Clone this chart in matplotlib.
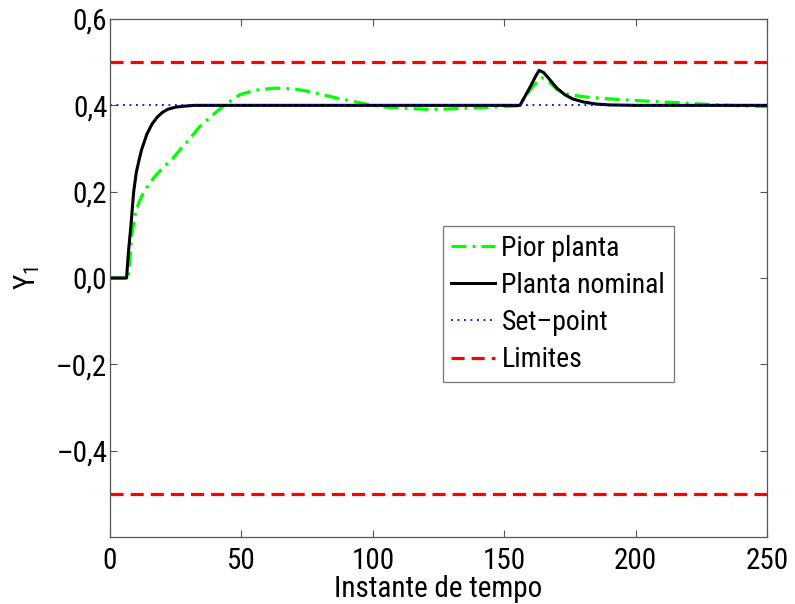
import numpy as np
import matplotlib
matplotlib.use('Agg')
import matplotlib.pyplot as plt

# tempo / respostas
t_nom = [0, 6.3, 7, 8, 9, 10, 11, 12, 14, 16, 18, 20, 22, 25, 28, 32, 40,
         156, 158, 160, 162, 163.3, 165, 167, 170, 173, 176, 180, 185, 190, 200, 250]
y_nom = [0, 0, 0.06, 0.125, 0.2, 0.245, 0.272, 0.297, 0.333, 0.357, 0.373, 0.384,
         0.391, 0.396, 0.398, 0.4, 0.4,
         0.4, 0.422, 0.444, 0.468, 0.481, 0.476, 0.462, 0.44, 0.425, 0.415, 0.408,
         0.403, 0.401, 0.4, 0.4]

t_pior = [0, 7, 8.2, 9.5, 10.8, 12, 14, 17, 20, 23.5, 27, 30, 34, 38, 43, 49.5, 55,
          63, 70, 76, 82, 87, 91, 95, 99, 105, 113, 120, 126, 134, 142, 150, 155.5,
          158, 161, 164.3, 167, 170, 174, 180, 190, 198, 210, 217, 225, 236, 250]
y_pior = [0, 0, 0.096, 0.145, 0.172, 0.189, 0.21, 0.235, 0.255, 0.274, 0.3, 0.32,
          0.35, 0.372, 0.398, 0.425, 0.435, 0.44, 0.438, 0.432, 0.423, 0.416, 0.411,
          0.406, 0.401, 0.396, 0.393, 0.391, 0.391, 0.393, 0.395, 0.397, 0.399,
          0.42, 0.445, 0.464, 0.455, 0.437, 0.426, 0.42, 0.415, 0.412, 0.408,
          0.406, 0.403, 0.4, 0.397]

set_point = 0.4
limites = [0.5, -0.5]
t_fim = 250

xticks = [0, 50, 100, 150, 200, 250]
yticks = [-0.4, -0.2, 0.0, 0.2, 0.4, 0.6]

plt.rcParams['font.family'] = ['Roboto Condensed', 'DejaVu Sans']
plt.rcParams['font.stretch'] = 'condensed'
plt.rcParams['mathtext.default'] = 'regular'

fig = plt.figure(figsize=(7.95, 6.04), dpi=100)
ax = fig.add_axes([0.1384, 0.1109, 0.8264, 0.8576])

ax.plot(t_pior, y_pior, color=(0, 1, 0), lw=2.3, ls=(0, (4.7, 1.9, 0.9, 1.9)),
        label='Pior planta')
ax.plot(t_nom, y_nom, color='k', lw=2.2, label='Planta nominal')
ax.plot([0, t_fim], [set_point, set_point], color=(0, 0, 1), lw=1.3, ls=(0, (1, 2.6)),
        label='Set\u2013point')
ax.plot([0, t_fim], [limites[0], limites[0]], color=(1, 0, 0), lw=2.3, ls=(0, (4.1, 2.2)),
        label='Limites')
ax.plot([0, t_fim], [limites[1], limites[1]], color=(1, 0, 0), lw=2.3, ls=(0, (4.1, 2.2)))

ax.set_xlim(0, 250)
ax.set_ylim(-0.6, 0.6)
ax.set_xticks(xticks)
ax.set_xticklabels([str(v) for v in xticks])
ax.set_yticks(yticks)
ax.set_yticklabels([('%.1f' % v).replace('.', ',').replace('-', '\u2013') for v in yticks])

ax.tick_params(direction='in', top=True, right=True, length=5, width=0.8,
               color='#555555', labelsize=21)
ax.tick_params(axis='x', pad=7)
ax.tick_params(axis='y', pad=2)
for s in ax.spines.values():
    s.set_color('#555555')
    s.set_linewidth(0.9)

ax.set_xlabel('Instante de tempo', fontsize=21, labelpad=0)
ax.set_ylabel('Y$_1$', fontsize=21)
ax.yaxis.set_label_coords(-0.104, 0.5)

leg = ax.legend(loc='upper left', bbox_to_anchor=(0.507, 0.600), fontsize=20,
                frameon=True, fancybox=False, handlelength=1.55, handletextpad=0.25,
                labelspacing=0.37, borderpad=0.3, borderaxespad=0)
leg.get_frame().set_edgecolor('#555555')
leg.get_frame().set_linewidth(0.9)

fig.savefig('out.png', dpi=100)
